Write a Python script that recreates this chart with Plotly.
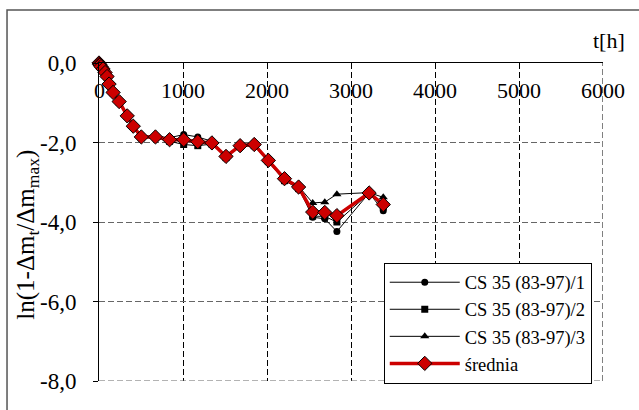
import plotly.graph_objects as go

t_hours = [0, 6, 12, 24, 48, 72, 96, 120, 168, 240, 336, 408, 504, 672, 840, 1008, 1176, 1344,
           1512, 1680, 1848, 2016, 2208, 2376, 2544, 2688, 2832, 3216, 3384]
series_1 = [0, -0.03, -0.05, -0.09, -0.14, -0.23, -0.33, -0.52, -0.73, -0.96, -1.32, -1.58, -1.83,
            -1.84, -1.88, -1.80, -1.86, -1.97, -2.33, -2.06, -2.02, -2.43, -2.88, -3.10,
            -3.88, -3.92, -4.24, -3.27, -3.72]
series_2 = [0, -0.03, -0.05, -0.10, -0.16, -0.25, -0.35, -0.54, -0.75, -0.98, -1.34, -1.60, -1.88,
            -1.88, -1.97, -2.05, -2.08, -2.04, -2.38, -2.10, -2.08, -2.48, -2.96, -3.16,
            -3.85, -3.86, -4.00, -3.28, -3.62]
series_3 = [0, -0.03, -0.05, -0.09, -0.15, -0.24, -0.34, -0.53, -0.74, -0.97, -1.33, -1.59, -1.87,
            -1.86, -1.94, -1.94, -2.00, -2.02, -2.34, -2.08, -2.05, -2.44, -2.89, -3.10,
            -3.52, -3.50, -3.30, -3.26, -3.38]
average = [0, -0.03, -0.05, -0.09, -0.15, -0.24, -0.34, -0.53, -0.74, -0.97, -1.33, -1.59, -1.86,
           -1.86, -1.93, -1.93, -1.98, -2.01, -2.35, -2.08, -2.05, -2.45, -2.91, -3.12,
           -3.75, -3.76, -3.84, -3.27, -3.56]

names = ["CS 35 (83-97)/1", "CS 35 (83-97)/2", "CS 35 (83-97)/3", "średnia"]
x_range = [0, 6000]
y_range = [-8, 0]
x_tickvals = [0, 1000, 2000, 3000, 4000, 5000, 6000]
x_ticktext = ["0", "1000", "2000", "3000", "4000", "5000", "6000"]
y_tickvals = [0, -2, -4, -6, -8]
y_ticktext = ["0,0", "-2,0", "-4,0", "-6,0", "-8,0"]

FONT = "Liberation Serif"

fig = go.Figure()
for ys, name, sym, sz in [(series_1, names[0], "circle", 7),
                          (series_2, names[1], "square", 7),
                          (series_3, names[2], "triangle-up", 8)]:
    fig.add_trace(go.Scatter(x=t_hours, y=ys, name=name, mode="lines+markers",
                             cliponaxis=False,
                             line=dict(color="black", width=1),
                             marker=dict(symbol=sym, size=sz, color="black")))
fig.add_trace(go.Scatter(x=t_hours, y=average, name=names[3], mode="lines+markers",
                         cliponaxis=False,
                         line=dict(color="#CC0000", width=3.5),
                         marker=dict(symbol="diamond", size=11, color="#CC0000",
                                     line=dict(color="black", width=1))))

annotations = [dict(text=txt, xref="x", yref="paper", x=v, y=0.915, xanchor="center",
                    yanchor="middle", showarrow=False,
                    font=dict(family=FONT, size=22, color="black"))
               for v, txt in zip(x_tickvals, x_ticktext)]
annotations += [
    dict(text="t[h]", xref="paper", yref="paper", x=1.048, y=1.072,
         xanchor="right", yanchor="middle", showarrow=False,
         font=dict(family=FONT, size=22, color="black")),
    dict(text="ln(1-Δm<sub>t</sub>/Δm<sub>max</sub>)", xref="paper", yref="paper",
         x=-0.141, y=0.46, xanchor="center", yanchor="middle", textangle=-90,
         showarrow=False, font=dict(family=FONT, size=25, color="black")),
]

grid_dash = "6px,3px"
shapes = [
    dict(type="rect", xref="paper", yref="paper", x0=-0.1825, y0=-0.13,
         x1=1.1, y1=1.1667, line=dict(color="#555555", width=1.5)),
    dict(type="line", xref="x", yref="y", x0=x_range[1], x1=x_range[1],
         y0=y_range[0], y1=y_range[1], line=dict(color="black", width=1, dash=grid_dash)),
    dict(type="line", xref="x", yref="y", x0=x_range[0], x1=x_range[1],
         y0=y_range[0], y1=y_range[0], line=dict(color="#666666", width=1, dash=grid_dash)),
]

fig.update_layout(
    width=639, height=410,
    margin=dict(l=99, r=36, t=63, b=29),
    paper_bgcolor="white", plot_bgcolor="white",
    font=dict(family=FONT, size=21, color="black"),
    showlegend=True,
    legend=dict(x=0.565, y=0.372, xanchor="left", yanchor="top",
                bgcolor="white", bordercolor="black", borderwidth=1,
                font=dict(family=FONT, size=18.5, color="black"), itemwidth=70,
                tracegroupgap=0),
    xaxis=dict(range=x_range, side="top", tickvals=x_tickvals, showticklabels=False,
               showline=True, linecolor="black", linewidth=1,
               showgrid=True, gridcolor="black", griddash=grid_dash, gridwidth=1,
               zeroline=False, ticks=""),
    yaxis=dict(range=y_range, tickvals=y_tickvals, ticktext=y_ticktext,
               showline=True, linecolor="black", linewidth=1,
               showgrid=True, gridcolor="#666666", griddash=grid_dash, gridwidth=1,
               zeroline=False, ticks="outside", ticklen=5, tickcolor="black",
               ticklabelstandoff=12,
               tickfont=dict(family=FONT, size=23, color="black")),
    annotations=annotations,
    shapes=shapes,
)

fig.write_html("out.html")
